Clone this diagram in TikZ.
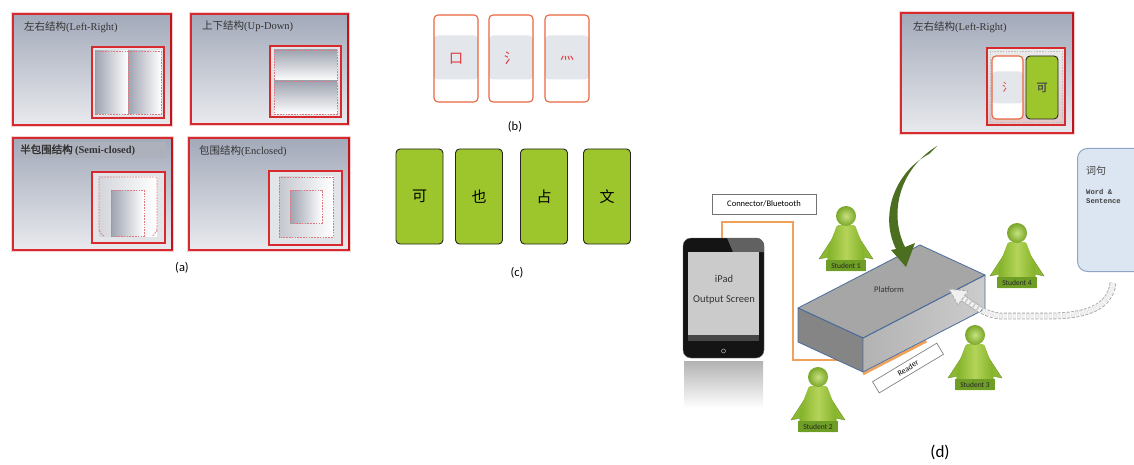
\documentclass[tikz,border=0pt]{standalone}
\usepackage{fontspec}
\setmainfont{Carlito}
\newfontfamily\cjk{Noto Sans CJK SC}[AutoFakeBold=2]
\newfontfamily\lserif{Liberation Serif}
\newfontfamily\lmono{Liberation Mono}
\usetikzlibrary{calc}

\definecolor{frameRed}{HTML}{D62A2E}
\definecolor{frameDark}{HTML}{C0141A}
\definecolor{panelTop}{HTML}{A2A9B9}
\definecolor{panelBot}{HTML}{E9EAEE}
\definecolor{slotFill}{HTML}{E3E4E8}
\definecolor{halfDark}{HTML}{9EA3B0}
\definecolor{dashRed}{HTML}{E07A7E}
\definecolor{cardEdge}{HTML}{E8663F}
\definecolor{radRed}{HTML}{E03338}
\definecolor{bandGray}{HTML}{E3E6EA}
\definecolor{leaf}{HTML}{9DC52C}
\definecolor{leafHi}{HTML}{B4D45A}
\definecolor{leafLo}{HTML}{7EAE24}
\definecolor{leafArm}{HTML}{8BB832}
\definecolor{leafBand}{HTML}{6F9E26}
\definecolor{headHi}{HTML}{C6E27E}
\definecolor{headLo}{HTML}{7AA628}
\definecolor{arrowGreen}{HTML}{4C6E20}
\definecolor{platEdge}{HTML}{4C6C9C}
\definecolor{wire}{HTML}{F0A25A}
\definecolor{wordFill}{HTML}{DCE6F2}
\definecolor{wordEdge}{HTML}{8FA5C4}
\definecolor{screenGray}{HTML}{CBCBCB}

\begin{document}
\begin{tikzpicture}[x=1pt,y=-1pt,
  halo/.style={draw=frameRed!22, line width=3.2pt},
  panel/.style={draw=frameRed, line width=1.2pt, top color=panelTop, bottom color=panelBot},
  panelEdge/.style={draw=frameDark, line width=2.4pt},
  slot/.style={draw=frameRed, line width=1.2pt, fill=slotFill},
  dashbox/.style={draw=dashRed, line width=0.8pt, dash pattern=on 1.6pt off 1.2pt},
  hshade/.style={left color=halfDark, right color=white},
  vshade/.style={top color=halfDark, bottom color=white},
  title/.style={anchor=west, inner sep=0pt, text=black!80, font=\fontsize{10.5}{12}\selectfont},
  caption/.style={font=\fontsize{12.5}{14}\selectfont},
  radcard/.style={draw=cardEdge, line width=1.1pt, rounded corners=4pt, fill=white,
    minimum width=44pt, minimum height=87pt, inner sep=0pt, text=radRed,
    font=\cjk\fontsize{14}{14}\selectfont,
    path picture={\fill[bandGray] ([yshift=23pt]path picture bounding box.west)
      rectangle ([yshift=-21pt]path picture bounding box.east);}},
  leafcard/.style={draw=black!85, line width=0.9pt, rounded corners=4pt, fill=leaf,
    minimum width=47pt, minimum height=95pt, inner sep=0pt,
    font=\cjk\fontsize{15}{15}\selectfont},
  wire/.style={draw=wire, line width=2.6pt},
  face/.style={draw=platEdge, line width=0.8pt, line join=round},
  labelbox/.style={draw=black!55, fill=white, line width=0.6pt, inner sep=0pt},
  student/.pic={
    % arms
    \fill[leafArm, draw=leafLo!80!black, line width=0.3pt, line join=round]
      (-12,20) -- (-27,43) -- (-17,41) -- cycle;
    \fill[leafArm, draw=leafLo!80!black, line width=0.3pt, line join=round]
      (12,20) -- (27,43) -- (17,41) -- cycle;
    % trunk
    \shade[left color=leafLo, right color=leafLo, middle color=leafHi, rounded corners=1.5pt]
      (-9,9) -- (9,9) -- (17,30) -- (20,55) -- (-20,55) -- (-17,30) -- cycle;
    \fill[leafBand] (-19.8,44) rectangle (19.8,55);
    \shade[inner color=headHi, outer color=headLo] (0,0) circle (10);
    \node[font=\fontsize{7.5}{8}\selectfont, text=black!85, inner sep=0pt] (-lab) at (0,49.5) {#1};
  }]
\useasboundingbox (0,0) rectangle (1134,465);
\fill[white] (0,0) rectangle (1134,465);

% ---------------- (a) four structures ----------------
% left-right
\draw[halo] (13,14) rectangle (171,125);
\draw[panel] (13,14) rectangle (171,125);
\draw[panelEdge] (171,14) -- (171,125);
\node[title] (tLR) at (24,27) {{\cjk 左右结构}{\lserif(Left-Right)}};
\draw[slot] (92,47) rectangle (164,118);
\shade[hshade] (95,51) rectangle (128,114);
\shade[hshade] (128,51) rectangle (161,114);
\draw[dashbox] (95,51) rectangle (161,114);
\draw[dashbox] (128,51) -- (128,114);

% up-down
\draw[halo] (191,14) rectangle (348,124);
\draw[panel] (191,14) rectangle (348,124);
\draw[panelEdge] (348,14) -- (348,124);
\node[title] (tUD) at (202,26) {{\cjk 上下结构}{\lserif(Up-Down)}};
\draw[slot] (270,46) rectangle (341,117);
\shade[vshade] (274,50) rectangle (337,81);
\shade[vshade] (274,81) rectangle (337,114);
\draw[dashbox] (274,50) rectangle (337,114);
\draw[dashbox] (274,81) -- (337,81);

% semi-closed
\draw[halo] (13,138) rectangle (172,250);
\draw[panel] (13,138) rectangle (172,250);
\draw[panelEdge] (172,138) -- (172,250);
\fill[halfDark!85!white] (19,142) rectangle (166,158);
\node[title] (tSC) at (20,150) {{\cjk\bfseries 半包围结构} {\lserif\bfseries (Semi-closed)}};
\draw[slot] (92,172) rectangle (165,243);
\shade[left color=halfDark!45, right color=white] (99,177) rectangle (157,236);
\shade[hshade] (111,190) rectangle (144,236);
\draw[dashbox] (104,236) to[out=180,in=90] (99,231) -- (99,177) -- (157,177) -- (157,231) to[out=90,in=0] (152,236);
\draw[dashbox] (111,190) rectangle (144,236);

% enclosed
\draw[halo] (189,138) rectangle (349,250);
\draw[panel] (189,138) rectangle (349,250);
\draw[panelEdge] (349,138) -- (349,250);
\node[title] (tEN) at (199,151) {{\cjk 包围结构}{\lserif(Enclosed)}};
\draw[slot] (269,171) rectangle (342,245);
\shade[left color=halfDark!60, right color=white] (279,177) rectangle (333,237);
\shade[hshade] (290,190) rectangle (322,223);
\draw[dashbox] (279,177) rectangle (333,237);
\draw[dashbox] (290,190) rectangle (322,223);

\node[caption] (capA) at (182,268) {(a)};

% ---------------- (b) radicals ----------------
\node[radcard] (b1) at (456,58.5) {口};
\node[radcard] (b2) at (511,58.5) {氵};
\node[radcard] (b3) at (567,58.5) {灬};
\node[caption] (capB) at (515,127) {(b)};

% ---------------- (c) character cards ----------------
\node[leafcard] (c1) at (419.5,196.5) {可};
\node[leafcard] (c2) at (479,196.5) {也};
\node[leafcard] (c3) at (544,196.5) {占};
\node[leafcard] (c4) at (607,196.5) {文};
\node[caption] (capC) at (517,273) {(c)};

% ---------------- (d) platform scene ----------------
% composed structure shown on top
\draw[halo] (901,13) rectangle (1073,133);
\draw[panel] (901,13) rectangle (1073,133);
\draw[panelEdge] (1073,13) -- (1073,133);
\node[title] (tD) at (913,27) {{\cjk 左右结构}{\lserif(Left-Right)}};
\draw[draw=frameRed, line width=1.2pt, top color=white!92!black, bottom color=black!30!frameRed!25!white] (987,48) rectangle (1065,125);
\draw[dashbox, draw=black!25] (990,51) rectangle (1062,122);
\node[radcard, minimum width=31pt, minimum height=63pt, font=\cjk\fontsize{11}{11}\selectfont,
  path picture={\fill[bandGray] ([yshift=16pt]path picture bounding box.west)
      rectangle ([yshift=-16pt]path picture bounding box.east);}] (dRad) at (1007.5,87.5) {氵};
\node[leafcard, minimum width=32pt, minimum height=63pt, font=\cjk\bfseries\fontsize{11}{11}\selectfont,
  text=black!70] (dChar) at (1042,87.5) {可};

% word & sentence panel
\node[draw=wordEdge, fill=wordFill, line width=1pt, rounded corners=10pt,
  minimum width=80pt, minimum height=123pt, anchor=north west] (word) at (1077,148) {};
\node[anchor=west, inner sep=0pt, font=\cjk\fontsize{10}{10}\selectfont, text=black!75] (wordCn) at (1086,171) {词句};
\node[anchor=north west, inner sep=0pt, align=left, font=\lmono\bfseries\fontsize{7.2}{8.6}\selectfont, text=black!75]
  (wordEn) at (1086,189) {Word \&\\Sentence};

% platform corners and the wire's end under it
\coordinate (T1) at (798,308);
\coordinate (T2) at (920,245);
\coordinate (T3) at (985,275);
\coordinate (T4) at (863,338);
\coordinate (B1) at (798,342);
\coordinate (B4) at (863,372);
\coordinate (B3) at (985,309);
\coordinate (port) at (845,360);

\node[labelbox, minimum width=104pt, minimum height=20pt, font=\fontsize{8.5}{10}\selectfont] (conn) at (764,204) {Connector/Bluetooth};

% iPad
\node[fill=black!92, draw=black!55, rounded corners=8pt, minimum width=81pt, minimum height=120pt] (ipad) at (723.5,298) {};
\draw[wire] ([xshift=-1.5pt]ipad.north) |- (793,222) |- (port);
\begin{scope}
  \clip[rounded corners=8pt] (683,238) rectangle (764,358);
  \fill[black!62] (727,238) -- (764,238) -- (764,252) -- (733,252) -- cycle;
\end{scope}
\node[fill=screenGray, minimum width=71pt, minimum height=89pt, inner sep=0pt] (screen) at (723.5,296.5) {};
\fill[black!72] (688,335) rectangle (759,341);
\draw[gray!70, line width=0.6pt] (723.5,351) circle (2);
\node[font=\fontsize{10.5}{12}\selectfont, text=black!80] (ipadName) at (724,279) {iPad};
\node[font=\fontsize{10.5}{12}\selectfont, text=black!80] (ipadRole) at (724,300) {Output Screen};
\shade[top color=black!30, bottom color=white] (684,361) rectangle (763,408);

% reader plate along the platform base
\draw[wire] ($(B4)+(0,2)$) -- ($(B4)!0.52!(B3)+(0,2)$);

% platform block
\fill[black!48] (T1) -- (T4) -- (B4) -- (B1) -- cycle;
\shade[left color=black!30, right color=black!20] (T4) -- (T3) -- (B3) -- (B4) -- cycle;
\draw[face, fill=black!35] (T1) -- (T2) -- (T3) -- (T4) -- cycle;
\draw[face] (T1) -- (T4) -- (B4) -- (B1) -- cycle;
\draw[face] (T4) -- (T3) -- (B3) -- (B4);
\node[font=\fontsize{8.5}{10}\selectfont, text=black!80] (platform) at (889,290) {Platform};

\node[labelbox, rotate=31, minimum width=75pt, minimum height=13pt, font=\fontsize{8}{9}\selectfont] (reader) at (908,368) {Reader};

% students
\pic (s1) at (846,216) {student={Student 1}};
\pic (s4) at (1017,233) {student={Student 4}};
\pic (s3) at (975,335) {student={Student 3}};
\pic (s2) at (818,377) {student={Student 2}};

% placing a card on the platform
\coordinate (gTop) at (937,146);
\coordinate (gTip) at (906,267);
\fill[arrowGreen] (929,154) .. controls (895,172) and (879,215) .. (896,249)
  -- (891,250) -- (gTip) -- (915,243) -- (905,247)
  .. controls (889,215) and (898,170) .. (gTop) -- cycle;

% word or sentence sent back to the platform
\draw[draw=gray!65, line width=0.9pt, dash pattern=on 3pt off 1.5pt, double=gray!12, double distance=5pt]
  (1113,283) .. controls (1110,308) and (1085,316) .. (1050,316) -- (1000,316)
  .. controls (985,315) and (973,305) .. (963,298);
\coordinate (dTip) at (949,289);
\draw[draw=gray!65, fill=gray!12, line width=0.9pt, dash pattern=on 3pt off 1.5pt]
  (dTip) -- (968,291) -- (958,305) -- cycle;

\node[font=\fontsize{17}{20}\selectfont] (capD) at (940,452) {(d)};
\end{tikzpicture}
\end{document}
